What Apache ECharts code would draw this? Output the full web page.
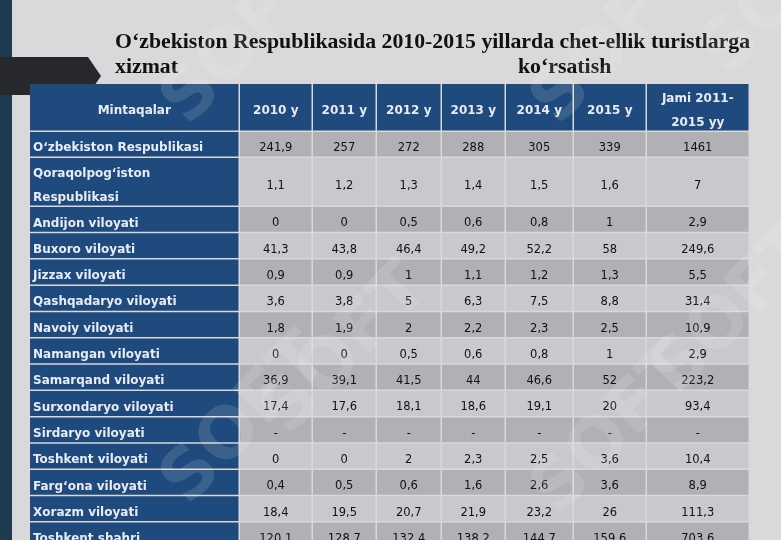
<!DOCTYPE html>
<html><head><meta charset="utf-8">
<script src="https://cdn.jsdelivr.net/npm/echarts@6/dist/echarts.min.js"></script>
<style>html,body{margin:0;padding:0;background:#d9d9db}#c{width:781px;height:540px}</style>
</head><body><div id="c"></div>
<script>
var headers = ['Mintaqalar','2010 y','2011 y','2012 y','2013 y','2014 y','2015 y','Jami 2011-\n2015 yy'];
var regions = ['O‘zbekiston Respublikasi','Qoraqolpog‘iston\nRespublikasi','Andijon viloyati','Buxoro viloyati','Jizzax viloyati','Qashqadaryo viloyati','Navoiy viloyati','Namangan viloyati','Samarqand viloyati','Surxondaryo viloyati','Sirdaryo viloyati','Toshkent viloyati','Farg‘ona viloyati','Xorazm viloyati','Toshkent shahri'];
var values = [
 ['241,9','257','272','288','305','339','1461'],
 ['1,1','1,2','1,3','1,4','1,5','1,6','7'],
 ['0','0','0,5','0,6','0,8','1','2,9'],
 ['41,3','43,8','46,4','49,2','52,2','58','249,6'],
 ['0,9','0,9','1','1,1','1,2','1,3','5,5'],
 ['3,6','3,8','5','6,3','7,5','8,8','31,4'],
 ['1,8','1,9','2','2,2','2,3','2,5','10,9'],
 ['0','0','0,5','0,6','0,8','1','2,9'],
 ['36,9','39,1','41,5','44','46,6','52','223,2'],
 ['17,4','17,6','18,1','18,6','19,1','20','93,4'],
 ['-','-','-','-','-','-','-'],
 ['0','0','2','2,3','2,5','3,6','10,4'],
 ['0,4','0,5','0,6','1,6','2,6','3,6','8,9'],
 ['18,4','19,5','20,7','21,9','23,2','26','111,3'],
 ['120,1','128,7','132,4','138,2','144,7','159,6','703,6']
];
// layout
var colEdges = [30,240,313,377,442,506,574,647,750];
var rowEdges = [84,132,158,207];
for (var i=3;i<=15;i++) rowEdges.push(207+(i-2)*26.3);

var cells = [];
headers.forEach(function(h,c){cells.push([c,0,h,'head']);});
regions.forEach(function(r,i){
  cells.push([0,i+1,r,'reg']);
  values[i].forEach(function(v,j){cells.push([j+1,i+1,v,i%2===0?'dark':'light']);});
});

var fills = {head:'#1f4a7d',reg:'#1f4a7d',dark:'#b1b1b5',light:'#c9c9cd'};
function renderItem(params, api){
  var c = api.value(0), r = api.value(1);
  var d = cells[params.dataIndex];
  var p0 = api.coord([colEdges[c], rowEdges[r]]);
  var p1 = api.coord([colEdges[c+1], rowEdges[r+1]]);
  var x=p0[0], y=p0[1], w=p1[0]-p0[0]-1.5, h=p1[1]-p0[1]-1.5;
  var isReg = d[3]==='reg', isHead=d[3]==='head';
  return {type:'group',children:[
    {type:'rect',shape:{x:x,y:y,width:w,height:h},style:{fill:fills[d[3]]}},
    {type:'text',style:{text:d[2],x:isReg?x+3:x+w/2,y:y+h/2+4,
      align:isReg?'left':'center',verticalAlign:'middle',
      fill:(isReg||isHead)?'#e8ecf2':'#111',
      font:((isReg||isHead)?'bold 12px':'11.5px')+' "DejaVu Sans"',
      lineHeight:isHead?24:24}}
  ]};
}

var chart = echarts.init(document.getElementById('c'));
var wm = [];
[[150,90],[520,90],[690,40],[150,470],[520,480],[640,360],[250,400]].forEach(function(p){
  wm.push({type:'text',x:p[0],y:p[1],rotation:0.8,style:{text:'SOFT',font:'bold 70px "DejaVu Sans"',fill:'rgba(255,255,255,0.12)'},z:100});
});
chart.setOption({
  animation:false,
  backgroundColor:'#d9d9db',
  grid:{left:0,right:0,top:0,bottom:0},
  xAxis:{type:'value',min:0,max:781,show:false},
  yAxis:{type:'value',min:0,max:540,inverse:true,show:false},
  graphic:[
    {type:'rect',shape:{x:0,y:0,width:12,height:540},style:{fill:'#1d3a4e'},z:-1},
    {type:'polygon',shape:{points:[[0,57],[88,57],[101,76],[88,95],[0,95]]},style:{fill:'#26282b'},z:-1},
    {type:'text',x:115,y:31,style:{text:'O‘zbekiston Respublikasida 2010-2015 yillarda chet-ellik turistlarga',font:'bold 21.8px "Liberation Serif"',fill:'#111'}},
    {type:'text',x:115,y:56,style:{text:'xizmat',font:'bold 21.8px "Liberation Serif"',fill:'#111'}},
    {type:'text',x:518,y:56,style:{text:'ko‘rsatish',font:'bold 21.8px "Liberation Serif"',fill:'#111'}}
  ].concat(wm),
  series:[{type:'custom',renderItem:renderItem,data:cells.map(function(d){return [d[0],d[1]];}),silent:true}]
});
</script></body></html>
